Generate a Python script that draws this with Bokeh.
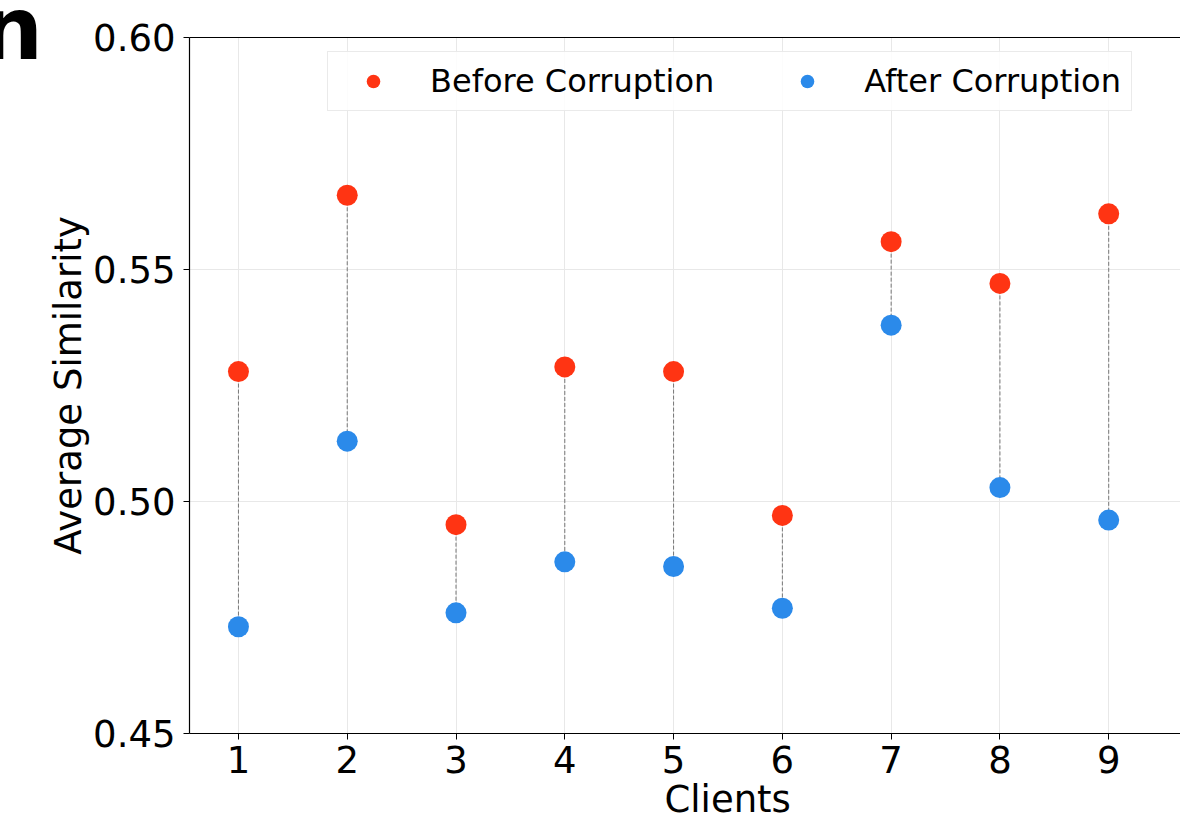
from bokeh.plotting import figure
from bokeh.models import Range1d, FixedTicker, Legend, LegendItem, ColumnDataSource, CustomJSTickFormatter, LinearAxis, Title
from bokeh.embed import file_html
from bokeh.resources import INLINE

clients = [1, 2, 3, 4, 5, 6, 7, 8, 9]
before = [0.528, 0.566, 0.495, 0.529, 0.528, 0.497, 0.556, 0.547, 0.562]
after = [0.473, 0.513, 0.476, 0.487, 0.486, 0.477, 0.538, 0.503, 0.496]
y_ticks = [0.45, 0.50, 0.55, 0.60]

RED = "#FF3413"
BLUE = "#2B8AEA"
FONT = "DejaVu Sans"

src = ColumnDataSource(dict(x=clients, b=before, a=after))

p = figure(width=1180, height=823, output_backend="svg", toolbar_location=None,
           x_range=Range1d(0.55, 9.66), y_range=Range1d(0.45, 0.60),
           min_border_left=189, min_border_right=0, min_border_top=37, min_border_bottom=90)
p.outline_line_color = None
p.background_fill_color = "white"

p.segment(x0="x", y0="b", x1="x", y1="a", source=src, line_color="#777777",
          line_width=1, line_dash="4 2")
r_b = p.scatter(x="x", y="b", source=src, size=21, color=RED, line_color=None)
r_a = p.scatter(x="x", y="a", source=src, size=21, color=BLUE, line_color=None)

# axes
p.xaxis.ticker = FixedTicker(ticks=clients)
p.yaxis.ticker = FixedTicker(ticks=y_ticks)
p.yaxis.formatter = CustomJSTickFormatter(code="return tick.toFixed(2);")
for ax in (p.xaxis[0], p.yaxis[0]):
    ax.major_label_text_font = FONT
    ax.major_label_text_font_size = "37px"
    ax.major_label_text_color = "black"
    ax.axis_label_text_font = FONT
    ax.axis_label_text_font_size = "37px"
    ax.axis_label_text_font_style = "normal"
    ax.axis_label_text_color = "black"
    ax.axis_line_color = "black"
    ax.axis_line_width = 1.2
    ax.major_tick_line_color = "black"
    ax.major_tick_out = 6
    ax.major_tick_in = 0
    ax.minor_tick_line_color = None
p.yaxis.axis_label = "Average Similarity"
p.xaxis.major_label_standoff = 6
p.yaxis.major_label_standoff = 8
p.yaxis.axis_label_standoff = 0

# top spine
top = LinearAxis(ticker=FixedTicker(ticks=[]), major_label_text_font_size="0px",
                 axis_line_color="black", axis_line_width=1.2,
                 major_tick_out=0, major_tick_in=0, major_label_standoff=0)
p.add_layout(top, "above")

p.xgrid.grid_line_color = "#e8e8e8"
p.ygrid.grid_line_color = "#e8e8e8"
p.xgrid.grid_line_width = 1
p.ygrid.grid_line_width = 1

legend = Legend(items=[LegendItem(label="Before Corruption", renderers=[r_b]),
                       LegendItem(label="After Corruption", renderers=[r_a])],
                orientation="horizontal", location=(138, 622))
legend.label_text_font = FONT
legend.label_text_font_size = "32px"
legend.label_text_color = "black"
legend.padding = 10
legend.margin = 0
legend.glyph_width = 70
legend.glyph_height = 34
legend.label_height = 34
legend.label_standoff = 22
legend.spacing = 58
legend.border_line_color = "#d5d5d5"
legend.border_line_width = 1
legend.background_fill_alpha = 0.85
p.add_layout(legend)

# x-axis title (placed as a below-panel title so it can sit off-centre like the reference)
xtitle = Title(text="Clients", align="left", offset=475, standoff=0,
               text_font=FONT, text_font_size="37px", text_font_style="normal",
               text_color="black", vertical_align="bottom")
p.add_layout(xtitle, "below")

# panel letter
ntitle = Title(text="n", align="left", offset=-209, standoff=-84,
               text_font=FONT, text_font_size="88px", text_font_style="bold",
               text_color="black", vertical_align="bottom")
p.add_layout(ntitle, "above")

open("out.html", "w").write(file_html(p, INLINE))
